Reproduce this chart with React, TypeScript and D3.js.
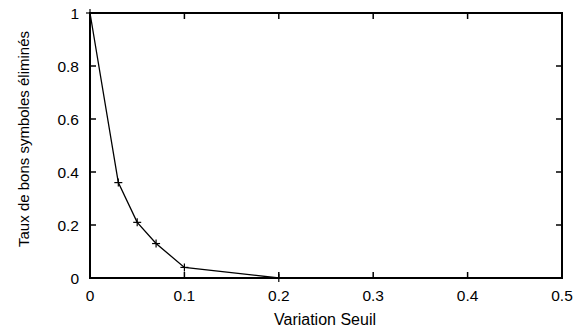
import React from "react";
import * as d3 from "d3";

const xValues = [0, 0.03, 0.05, 0.07, 0.1, 0.2];
const yValues = [1, 0.36, 0.21, 0.13, 0.04, 0];
const xTicks = [0, 0.1, 0.2, 0.3, 0.4, 0.5];
const yTicks = [0, 0.2, 0.4, 0.6, 0.8, 1];
const xTitle = "Variation Seuil";
const yTitle = "Taux de bons symboles éliminés";

export default function App() {
  const W = 586, H = 332;
  const left = 90, right = 562, top = 13, bottom = 278;
  const x = d3.scaleLinear().domain([0, 0.5]).range([left, right]);
  const y = d3.scaleLinear().domain([0, 1]).range([bottom, top]);
  const pts = xValues.map((v, i) => [v, yValues[i]] as [number, number]);
  const line = d3.line<[number, number]>().x(d => x(d[0])).y(d => y(d[1]));
  const font = "'Liberation Sans', Arial, sans-serif";
  const tl = 6;
  return (
    <svg width={W} height={H} style={{ position: "absolute", left: 0, top: 0 }}>
      <rect width={W} height={H} fill="#fff" />
      <path d={line(pts) || ""} fill="none" stroke="#000" strokeWidth={1.3} />
      {pts.map((p, i) => (
        <g key={i} stroke="#000" strokeWidth={1.2}>
          <line x1={x(p[0]) - 4} x2={x(p[0]) + 4} y1={y(p[1])} y2={y(p[1])} />
          <line x1={x(p[0])} x2={x(p[0])} y1={y(p[1]) - 4} y2={y(p[1]) + 4} />
        </g>
      ))}
      <rect x={left} y={top} width={right - left} height={bottom - top} fill="none" stroke="#000" strokeWidth={2} />
      {xTicks.map(t => (
        <g key={"x" + t}>
          <line x1={x(t)} x2={x(t)} y1={bottom} y2={bottom - tl} stroke="#000" strokeWidth={1.5} />
          <line x1={x(t)} x2={x(t)} y1={top} y2={top + tl} stroke="#000" strokeWidth={1.5} />
          <text x={x(t)} y={301} textAnchor="middle" fontFamily={font} fontSize={15.5} fill="#000">{t}</text>
        </g>
      ))}
      {yTicks.map(t => (
        <g key={"y" + t}>
          <line x1={left} x2={left + tl} y1={y(t)} y2={y(t)} stroke="#000" strokeWidth={1.5} />
          <line x1={right} x2={right - tl} y1={y(t)} y2={y(t)} stroke="#000" strokeWidth={1.5} />
          <text x={left - 11} y={y(t) + 5.5} textAnchor="end" fontFamily={font} fontSize={15.5} fill="#000">{t}</text>
        </g>
      ))}
      <text x={325} y={325} textAnchor="middle" fontFamily={font} fontSize={16} fill="#000">{xTitle}</text>
      <text transform={`translate(29,139) rotate(-90)`} textAnchor="middle" fontFamily={font} fontSize={15} fill="#000">{yTitle}</text>
    </svg>
  );
}
